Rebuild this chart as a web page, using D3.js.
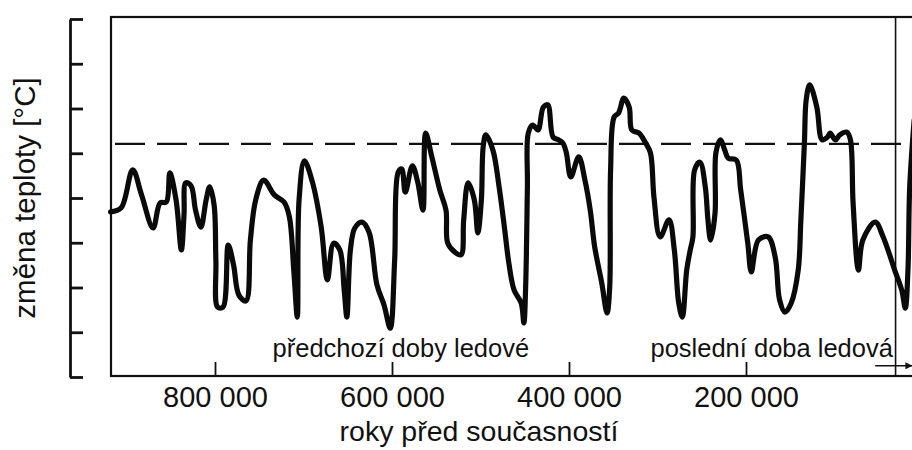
<!DOCTYPE html>
<html>
<head>
<meta charset="utf-8">
<script src="https://cdn.jsdelivr.net/npm/d3@7"></script>
<style>
  body { margin: 0; background: #fff; }
  svg text { font-family: "Liberation Sans", Arial, sans-serif; fill: #111; }
</style>
</head>
<body>
<svg width="912" height="450"></svg>
<script>
//Global variables
const SVG_WIDTH = 912;
const SVG_HEIGHT = 450;

//years before present
var years = [918000, 906000, 893000, 883000, 870000, 862000, 855000, 851000, 844000, 838000,
             835000, 833000, 827000, 822000, 816000, 810000, 806000, 801000, 799000, 797000,
             791000, 785000, 779000, 773000, 765000, 760000, 754000, 745000, 733000, 722000,
             716000, 711000, 707000, 705000, 699000, 690000, 680000, 673000, 666000, 659000,
             654000, 651000, 647000, 642000, 634000, 626000, 617000, 609000, 602000, 597000,
             593000, 589000, 585000, 577000, 571000, 565000, 562000, 555000, 546000, 539000,
             537000, 529000, 522000, 519000, 514000, 507000, 503000, 499000, 497000, 494000,
             486000, 479000, 473000, 468000, 462000, 454000, 451000, 449000, 447000, 446000,
             441000, 435000, 429000, 424000, 418000, 412000, 407000, 403000, 398000, 389000,
             382000, 376000, 371000, 363000, 357000, 354000, 353000, 349000, 344000, 338000,
             332000, 329000, 321000, 314000, 308000, 304000, 297000, 287000, 281000, 276000,
             272000, 267000, 263000, 260000, 258000, 252000, 246000, 243000, 240000, 235000,
             234000, 229000, 224000, 220000, 211000, 206000, 198000, 194000, 186000, 175000,
             167000, 162000, 156000, 149000, 141000, 138000, 134000, 132000, 128000, 120000,
             114000, 108000, 105000, 99000, 94000, 86000, 82000, 79000, 73000, 68000,
             54000, 45000, 32000, 24000, 20000, 17000, 15000, 10000];
//temperature change [°C]
var temps = [-2.31, -2.22, -1.37, -1.93, -2.67, -2.11, -2.09, -1.44, -2.04, -3.16,
             -2.38, -1.66, -1.73, -2.27, -2.65, -2.04, -1.75, -2.16, -3.39, -4.44,
             -4.44, -3.05, -3.50, -4.17, -4.30, -2.94, -2.04, -1.60, -1.93, -2.09,
             -2.42, -3.61, -4.66, -2.04, -1.17, -1.64, -2.65, -3.83, -3.01, -3.16,
             -4.06, -4.66, -3.16, -2.67, -2.54, -2.76, -3.94, -4.39, -4.91, -3.39,
             -1.42, -1.35, -1.87, -1.28, -1.64, -2.27, -0.55, -1.08, -1.82, -2.27,
             -3.01, -3.21, -3.27, -2.49, -1.66, -2.04, -2.78, -2.04, -0.86, -0.59,
             -0.93, -1.75, -2.65, -3.45, -4.06, -4.35, -4.79, -3.99, -1.75, -0.55,
             -0.37, -0.48, 0.03, 0.08, -0.64, -0.70, -0.77, -0.99, -1.53, -1.08,
             -1.60, -2.27, -3.09, -3.90, -4.57, -3.99, -1.37, -0.19, -0.10, 0.23,
             0.03, -0.48, -0.55, -0.75, -0.99, -1.98, -2.87, -2.49, -3.16, -4.35,
             -4.66, -3.61, -3.16, -2.87, -1.37, -1.20, -1.75, -2.49, -2.94, -2.34,
             -0.99, -0.70, -0.93, -1.11, -1.15, -1.82, -3.01, -3.65, -2.94, -2.87,
             -3.32, -4.28, -4.55, -4.35, -3.61, -2.49, -0.77, 0.19, 0.53, 0.03,
             -0.70, -0.64, -0.55, -0.70, -0.59, -0.53, -0.70, -2.11, -3.61, -2.94,
             -2.54, -2.87, -3.61, -4.06, -4.46, -3.61, -1.75, -0.26];

var yTicks = [-6, -5, -4, -3, -2, -1, 0, 1, 2];
var xTicks = [800000, 600000, 400000, 200000];
var presentLevel = -0.79;     //dashed line = today's temperature
var lastGlacialEnd = 31000;   //thin vertical line

var svg = d3.select('svg');
svg.append('rect').attr('width', SVG_WIDTH).attr('height', SVG_HEIGHT).attr('fill', '#fff');

//scales
var x = d3.scaleLinear().domain([0, 1000000]).range([923, 38]);
var y = d3.scaleLinear().domain([-6, 2]).range([377, 19]);

var fmt = d3.formatLocale({decimal: ',', thousands: ' ', grouping: [3], currency: ['', '']}).format(',d');

//plot frame
svg.append('rect')
   .attr('x', 111).attr('y', 17)
   .attr('width', 840).attr('height', 359)
   .attr('fill', 'none').attr('stroke', '#111').attr('stroke-width', 2.2);

//separate y axis on the left, no labels
var yAxis = svg.append('g')
   .attr('transform', 'translate(70,0)')
   .call(d3.axisRight(y).tickValues(yTicks).tickSize(13).tickSizeOuter(0).tickFormat(''));
yAxis.selectAll('path, line').attr('stroke', '#111').attr('stroke-width', 2.8);

//x axis, ticks pointing up into the plot
var xAxis = svg.append('g')
   .attr('transform', 'translate(0,376)')
   .call(d3.axisBottom(x).tickValues(xTicks).tickSize(-14).tickPadding(10).tickFormat(fmt));
xAxis.select('.domain').remove();
xAxis.selectAll('line').attr('stroke', '#111').attr('stroke-width', 1.8);
xAxis.selectAll('text')
   .attr('font-size', 29)
   .attr('font-family', '"Liberation Sans", Arial, sans-serif')
   .attr('fill', '#111');

//dashed line for present temperature
svg.append('line')
   .attr('x1', 115).attr('x2', SVG_WIDTH)
   .attr('y1', y(presentLevel)).attr('y2', y(presentLevel))
   .attr('stroke', '#111').attr('stroke-width', 2.4)
   .attr('stroke-dasharray', '30,12');

//vertical line
svg.append('line')
   .attr('x1', x(lastGlacialEnd)).attr('x2', x(lastGlacialEnd))
   .attr('y1', 17).attr('y2', 376)
   .attr('stroke', '#111').attr('stroke-width', 1.6);

//the temperature curve
var data = years.map(function(d, i) { return {year: d, value: temps[i]}; });
var line = d3.line()
   .x(function(d) { return x(d.year); })
   .y(function(d) { return y(d.value); })
   .curve(d3.curveCatmullRom.alpha(0.5));

svg.append('path')
   .datum(data)
   .attr('d', line)
   .attr('fill', 'none')
   .attr('stroke', '#0a0a0a')
   .attr('stroke-width', 5.2)
   .attr('stroke-linejoin', 'round')
   .attr('stroke-linecap', 'round');

//arrow at bottom right
svg.append('defs').append('marker')
   .attr('id', 'arrow')
   .attr('viewBox', '0 0 10 10')
   .attr('refX', 10).attr('refY', 5)
   .attr('markerWidth', 9).attr('markerHeight', 7)
   .attr('markerUnits', 'userSpaceOnUse')
   .attr('orient', 'auto')
   .append('path').attr('d', 'M0,0L10,5L0,10z').attr('fill', '#111');

svg.append('line')
   .attr('x1', x(54000)).attr('x2', x(12000))
   .attr('y1', y(-5.75)).attr('y2', y(-5.75))
   .attr('stroke', '#111').attr('stroke-width', 1.6)
   .attr('marker-end', 'url(#arrow)');

//annotations
svg.append('text')
   .attr('x', x(590000)).attr('y', 357)
   .attr('text-anchor', 'middle')
   .attr('font-size', 25.5)
   .text('předchozí doby ledové');

svg.append('text')
   .attr('x', x(34000)).attr('y', 357)
   .attr('text-anchor', 'end')
   .attr('font-size', 25.5)
   .text('poslední doba ledová');

//axis labels
svg.append('text')
   .attr('x', 479).attr('y', 441)
   .attr('text-anchor', 'middle')
   .attr('font-size', 28.5)
   .text('roky před současností');

svg.append('text')
   .attr('transform', 'translate(35,198) rotate(-90)')
   .attr('text-anchor', 'middle')
   .attr('font-size', 29.5)
   .text('změna teploty [°C]');
</script>
</body>
</html>
